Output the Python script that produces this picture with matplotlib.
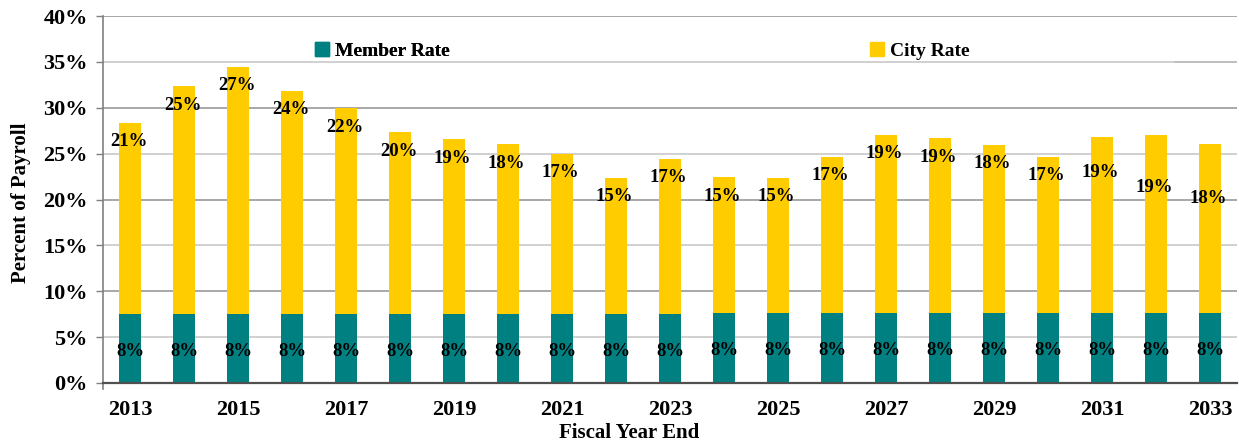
import matplotlib
matplotlib.use("Agg")
import matplotlib.pyplot as plt
from matplotlib.patches import Patch
from matplotlib.lines import Line2D
import numpy as np

years = list(range(2013, 2034))
member_rate = [7.55] * 11 + [7.65] * 10
city_rate = [20.8, 24.8, 26.9, 24.3, 22.4, 19.8, 19.0, 18.45, 17.45, 14.8, 16.9,
             14.8, 14.7, 17.0, 19.4, 19.0, 18.3, 17.0, 19.2, 19.4, 18.45]
y_ticks = [0, 5, 10, 15, 20, 25, 30, 35, 40]

TEAL = "#008080"
YELLOW = "#FFCC00"
FONT = "Liberation Serif"
plt.rcParams["font.family"] = [FONT, "DejaVu Serif"]
plt.rcParams["font.weight"] = "bold"

W, H = 1239, 445
fig = plt.figure(figsize=(W / 100, H / 100), dpi=100)
ax = fig.add_axes([103 / W, 1 - 383 / H, (1237 - 103) / W, (383 - 16) / H])

x = np.arange(len(years))
bw = 0.42
b1 = ax.bar(x, member_rate, width=bw, color=TEAL, zorder=3)
b2 = ax.bar(x, city_rate, width=bw, bottom=member_rate, color=YELLOW, zorder=3)

# labels
label_drop_px = [19] * 18 + [36, 53, 55]
for i in range(len(years)):
    ax.text(x[i], member_rate[i] / 2 - 0.3, f"{member_rate[i]:.0f}%", ha="center", va="center",
            fontsize=13.5, fontweight="bold", zorder=4)
    top = member_rate[i] + city_rate[i]
    ax.annotate(f"{city_rate[i]:.0f}%", xy=(x[i], top), xytext=(-1, -label_drop_px[i] * 0.72),
                textcoords="offset points", ha="center", va="center",
                fontsize=13.5, fontweight="bold", zorder=4)

ax.set_xlim(-0.5, len(years) - 0.5)
ax.set_ylim(0, 40)
ax.set_yticks(y_ticks)
ax.set_yticklabels([f"{t}%" for t in y_ticks])
ax.set_xticks(x[::2])
ax.set_xticklabels([str(y) for y in years[::2]])
ax.tick_params(axis="x", length=0, pad=12, labelsize=16)
ax.tick_params(axis="y", length=5, width=1, color="#808080", pad=6, labelsize=16, direction="out")
for lab in ax.get_xticklabels() + ax.get_yticklabels():
    lab.set_fontweight("bold")

# gridlines
for t in y_ticks[1:]:
    ax.axhline(t, color="#9A9A9A" if t % 10 == 0 else "#C8C8C8", lw=1.2, zorder=1)

for s in ["top", "right"]:
    ax.spines[s].set_visible(False)
ax.spines["left"].set_color("#808080")
ax.spines["left"].set_linewidth(1.2)
ax.spines["bottom"].set_color("#505050")
ax.spines["bottom"].set_linewidth(1.6)
ax.spines["bottom"].set_zorder(5)

# small tick below left edge of x axis
ax.add_line(Line2D([-0.5, -0.5], [0, -0.7], color="#808080", lw=1.2, clip_on=False))

fig.text(21 / W, 1 - 203 / H, "Percent of Payroll", rotation=90, ha="center", va="center",
         fontsize=15, fontweight="bold")
fig.text(629 / W, 1 - 433 / H, "Fiscal Year End", ha="center", va="center",
         fontsize=15, fontweight="bold")

# legends
leg1 = fig.legend(handles=[Patch(color=TEAL, label="Member Rate")], loc="center left",
                  bbox_to_anchor=(315 / W, 1 - 51 / H), frameon=False, borderpad=0,
                  borderaxespad=0, handlelength=0.72, handleheight=0.72, handletextpad=0.3,
                  prop={"family": FONT, "weight": "bold", "size": 14})
leg2 = fig.legend(handles=[Patch(color=YELLOW, label="City Rate")], loc="center left",
                  bbox_to_anchor=(870 / W, 1 - 51 / H), frameon=False, borderpad=0,
                  borderaxespad=0, handlelength=0.72, handleheight=0.72, handletextpad=0.3,
                  prop={"family": FONT, "weight": "bold", "size": 14})
fig.add_artist(leg1)

# stray line at right
fig.add_artist(Line2D([1175 / W, 1236 / W], [1 - 62 / H, 1 - 62 / H], color="#BBBBBB", lw=1.2))

fig.savefig("out.png", dpi=100)
